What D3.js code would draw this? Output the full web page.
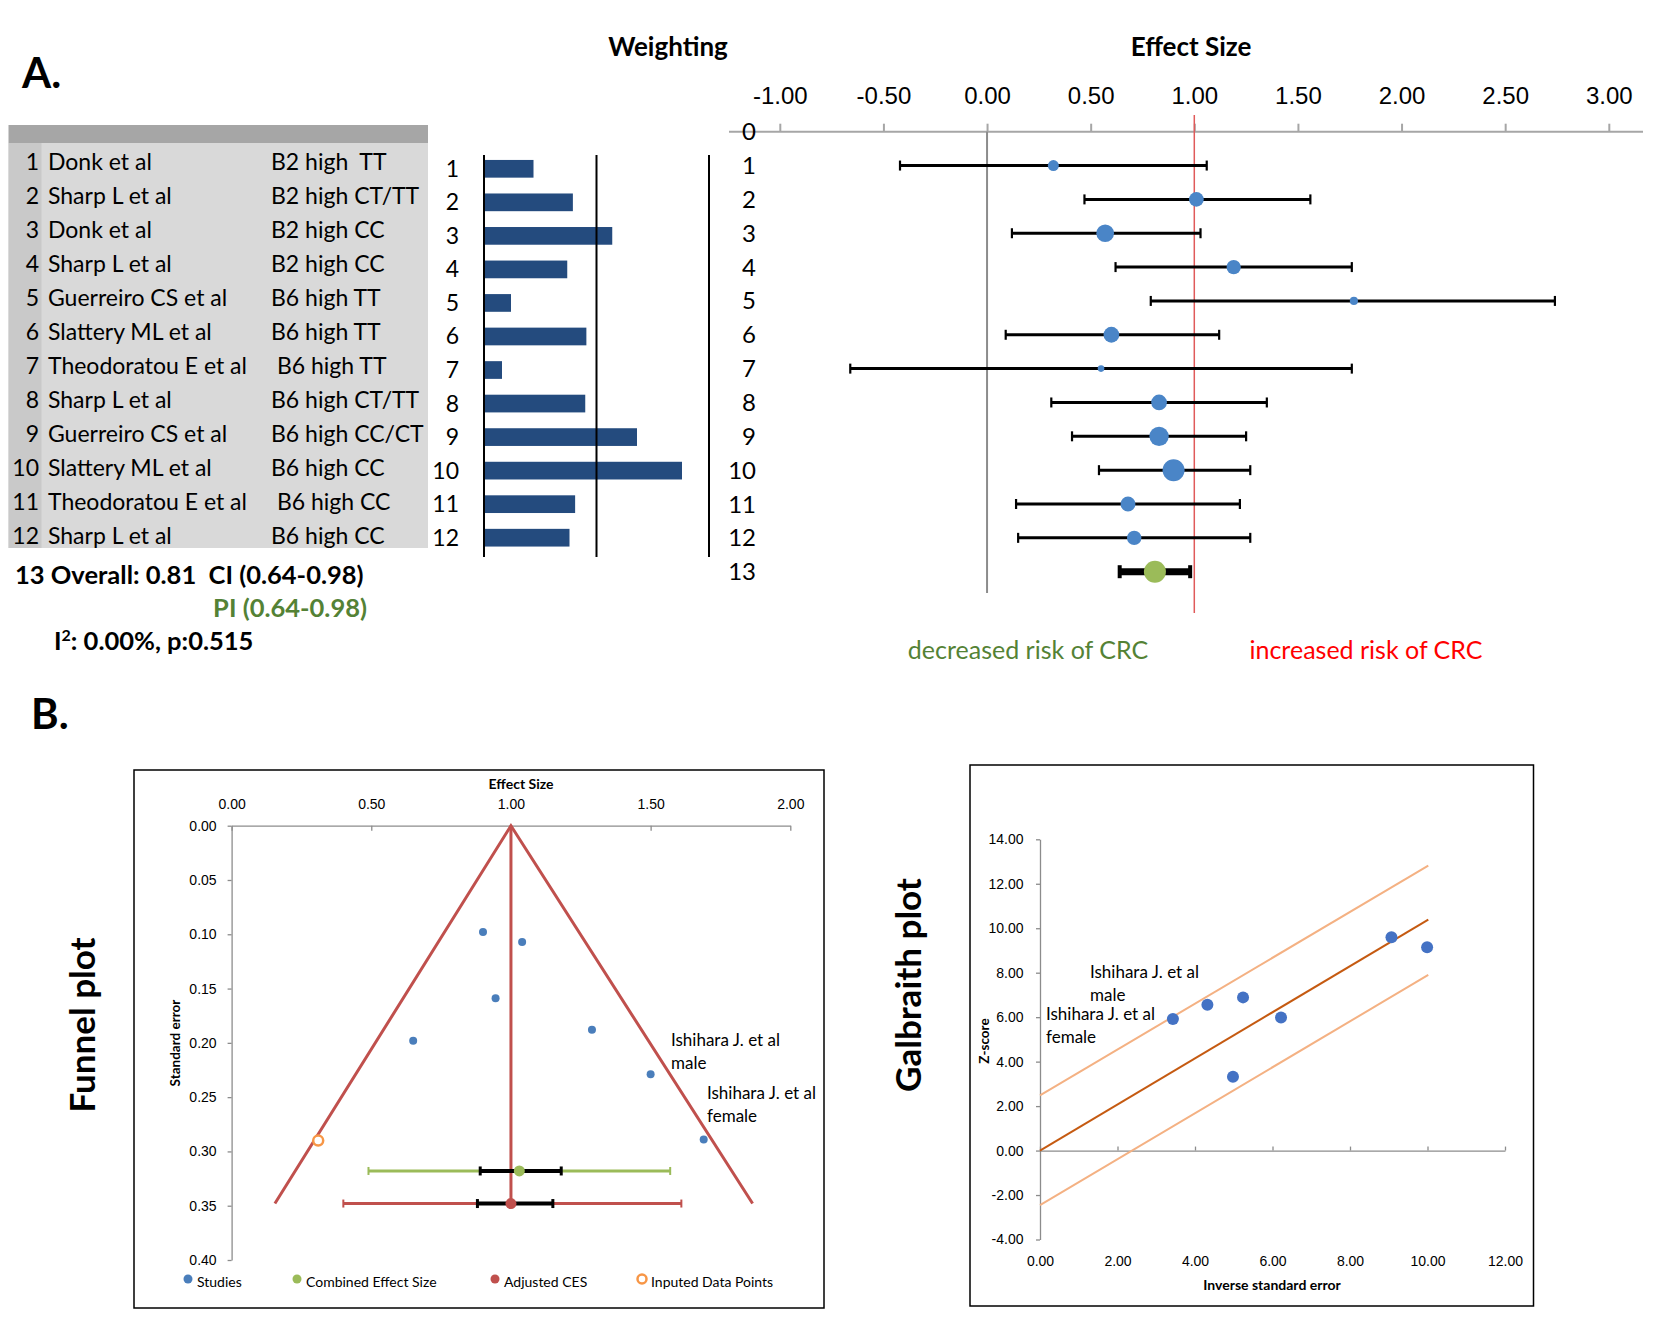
<!DOCTYPE html>
<html><head><meta charset="utf-8">
<script src="https://cdn.jsdelivr.net/npm/d3@7"></script>
<style>
body{margin:0;background:#fff}
svg{display:block;font-family:Lato,"Open Sans",sans-serif}
text{white-space:pre}
</style></head><body>
<svg id="fig" width="1657" height="1323"></svg>
<script>
// ---- panel A data ----
const studyNum = [1,2,3,4,5,6,7,8,9,10,11,12];
const authors = ["Donk et al","Sharp L et al","Donk et al","Sharp L et al","Guerreiro CS et al","Slattery ML et al",
  "Theodoratou E et al","Sharp L et al","Guerreiro CS et al","Slattery ML et al","Theodoratou E et al","Sharp L et al"];
const genotypes = ["B2 high  TT","B2 high CT/TT","B2 high CC","B2 high CC","B6 high TT","B6 high TT",
  " B6 high TT","B6 high CT/TT","B6 high CC/CT","B6 high CC"," B6 high CC","B6 high CC"];
const weights = [4.4, 7.9, 11.4, 7.4, 2.4, 9.1, 1.6, 9.0, 13.6, 17.6, 8.1, 7.6];
const effect = [0.32, 1.01, 0.57, 1.19, 1.77, 0.60, 0.55, 0.83, 0.83, 0.90, 0.68, 0.71];
const ciLow = [-0.42, 0.47, 0.12, 0.62, 0.79, 0.09, -0.66, 0.31, 0.41, 0.54, 0.14, 0.15];
const ciHigh = [1.06, 1.56, 1.03, 1.76, 2.74, 1.12, 1.76, 1.35, 1.25, 1.27, 1.22, 1.27];
const overall = {es: 0.81, lo: 0.64, hi: 0.98};
const esTicks = [-1, -0.5, 0, 0.5, 1, 1.5, 2, 2.5, 3];

// ---- funnel data ----
const funnelEs = [0.90, 1.04, 0.945, 1.29, 0.65, 1.50, 1.69];
const funnelSe = [0.098, 0.107, 0.159, 0.188, 0.198, 0.229, 0.289];
const imputed = [{es: 0.31, se: 0.29}];
const combined = {es: 1.03, se: 0.318, ciLo: 0.89, ciHi: 1.18, piLo: 0.49, piHi: 1.57};
const adjusted = {es: 1.00, se: 0.348, ciLo: 0.88, ciHi: 1.15, piLo: 0.40, piHi: 1.61};
const funnelEdge = [[0.155, 0.348], [1.00, 0], [1.865, 0.348]];
const funnelXTicks = [0, 0.5, 1, 1.5, 2];
const funnelYTicks = [0, 0.05, 0.1, 0.15, 0.2, 0.25, 0.3, 0.35, 0.4];

// ---- galbraith data ----
const precision = [3.43, 4.32, 5.24, 6.22, 9.07, 9.99, 4.98];
const zScore = [5.92, 6.56, 6.89, 5.99, 9.59, 9.14, 3.32];
const regLine = [[0, 0], [10.02, 10.39]];
const upperLine = [[0, 2.48], [10.02, 12.82]];
const lowerLine = [[0, -2.45], [10.02, 7.90]];
const galXTicks = [0, 2, 4, 6, 8, 10, 12];
const galYTicks = [-4, -2, 0, 2, 4, 6, 8, 10, 12, 14];

const svg = d3.select("#fig");
svg.append("rect").attr("width", 1657).attr("height", 1323).attr("fill", "#fff");
const f2 = d => d.toFixed(2);

function label(g, x, y, size, txt, opts) {
  opts = opts || {};
  return g.append("text").attr("x", x).attr("y", y).attr("font-size", size)
    .attr("font-weight", opts.bold ? 700 : 400).attr("fill", opts.fill || "#000")
    .attr("text-anchor", opts.anchor || "start").text(txt);
}

// ================= Panel A =================
label(svg, 22, 88, 42, "A.", {bold: true});
label(svg, 668, 56, 26, "Weighting", {bold: true, anchor: "middle"});
label(svg, 1191, 56, 26, "Effect Size", {bold: true, anchor: "middle"});

// table
const tbl = svg.append("g");
tbl.append("rect").attr("x", 8.5).attr("y", 125).attr("width", 419.5).attr("height", 18).attr("fill", "#a6a6a6");
tbl.append("rect").attr("x", 8.5).attr("y", 143).attr("width", 419.5).attr("height", 405).attr("fill", "#d9d9d9");
tbl.append("rect").attr("x", 8.5).attr("y", 143).attr("width", 33).attr("height", 405).attr("fill", "#c9c9c9");
const rowY = d3.scaleLinear().domain([1, 12]).range([161.7, 535.7]);
const rows = tbl.selectAll("g.row").data(studyNum).join("g").attr("class", "row")
  .attr("transform", d => `translate(0,${rowY(d) + 8})`).attr("font-size", 23);
rows.append("text").attr("x", 39).attr("text-anchor", "end").text(d => d);
rows.append("text").attr("x", 48).text((d, i) => authors[i]);
rows.append("text").attr("x", 271).text((d, i) => genotypes[i]);

// weighting bars
const wx = d3.scaleLinear().domain([0, 20]).range([484, 709]);
const by = d3.scaleBand().domain(studyNum).range([152.03, 554.47]).paddingInner(0.472).paddingOuter(0.236);
const bars = svg.append("g");
bars.selectAll("rect").data(studyNum).join("rect")
  .attr("x", wx(0)).attr("y", d => by(d)).attr("height", by.bandwidth())
  .attr("width", (d, i) => wx(weights[i]) - wx(0)).attr("fill", "#244b7e");
bars.selectAll("line.grid").data([0, 10, 20]).join("line").attr("class", "grid")
  .attr("x1", d => wx(d)).attr("x2", d => wx(d)).attr("y1", 155).attr("y2", 557)
  .attr("stroke", "#000").attr("stroke-width", 2);
bars.selectAll("text").data(studyNum).join("text")
  .attr("x", 459).attr("y", d => by(d) + by.bandwidth() / 2 + 8).attr("text-anchor", "end")
  .attr("font-size", 23).text(d => d);

// forest plot
const fx = d3.scaleLinear().domain([-1, 3]).range([779.8, 1608.8]);
const fy = d3.scaleLinear().domain([0, 13]).range([131.7, 571.7]);
const rs = d3.scaleSqrt().domain([0, 17.6]).range([0, 11]);
const forest = svg.append("g");
forest.append("line").attr("x1", 729).attr("x2", 1643).attr("y1", fy(0)).attr("y2", fy(0))
  .attr("stroke", "#a6a6a6").attr("stroke-width", 2);
const fAxis = forest.append("g").attr("transform", `translate(0,${fy(0)})`)
  .call(d3.axisTop(fx).tickValues(esTicks).tickSizeInner(8).tickSizeOuter(0).tickPadding(20).tickFormat(f2));
fAxis.select(".domain").remove();
fAxis.selectAll("line").attr("stroke", "#a6a6a6").attr("stroke-width", 2);
fAxis.selectAll("text").attr("font-size", 24).attr("font-family", null).attr("fill", "#000");
forest.selectAll("text.rl").data(d3.range(0, 14)).join("text").attr("class", "rl")
  .attr("x", 756).attr("y", d => fy(d) + 8.5).attr("text-anchor", "end").attr("font-size", 24).text(d => d);
forest.append("line").attr("x1", fx(0)).attr("x2", fx(0)).attr("y1", fy(0)).attr("y2", 593)
  .attr("stroke", "#8c8c8c").attr("stroke-width", 2);
forest.append("line").attr("x1", fx(1)).attr("x2", fx(1)).attr("y1", 115).attr("y2", 613)
  .attr("stroke", "#e05a5a").attr("stroke-width", 1.5);
const eb = forest.selectAll("g.eb").data(studyNum).join("g").attr("class", "eb")
  .attr("transform", d => `translate(0,${fy(d)})`);
eb.append("line").attr("x1", (d, i) => fx(ciLow[i])).attr("x2", (d, i) => fx(ciHigh[i]))
  .attr("stroke", "#000").attr("stroke-width", 3);
eb.append("line").attr("x1", (d, i) => fx(ciLow[i])).attr("x2", (d, i) => fx(ciLow[i]))
  .attr("y1", -5).attr("y2", 5).attr("stroke", "#000").attr("stroke-width", 2.2);
eb.append("line").attr("x1", (d, i) => fx(ciHigh[i])).attr("x2", (d, i) => fx(ciHigh[i]))
  .attr("y1", -5).attr("y2", 5).attr("stroke", "#000").attr("stroke-width", 2.2);
eb.append("circle").attr("cx", (d, i) => fx(effect[i])).attr("r", (d, i) => rs(weights[i]))
  .attr("fill", "#4a85c7");
const ov = forest.append("g").attr("transform", `translate(0,${fy(13)})`);
ov.append("line").attr("x1", fx(overall.lo)).attr("x2", fx(overall.hi)).attr("stroke", "#000").attr("stroke-width", 7);
[overall.lo, overall.hi].forEach(v => ov.append("line").attr("x1", fx(v)).attr("x2", fx(v))
  .attr("y1", -6.5).attr("y2", 6.5).attr("stroke", "#000").attr("stroke-width", 4));
ov.append("circle").attr("cx", fx(overall.es)).attr("r", 11).attr("fill", "#9bbb59");

label(svg, 1028, 659, 25, "decreased risk of CRC", {anchor: "middle", fill: "#548235"});
label(svg, 1366, 659, 25, "increased risk of CRC", {anchor: "middle", fill: "#ff0000"});

label(svg, 15, 584, 25.5, `13 Overall: ${f2(overall.es)}  CI (${f2(overall.lo)}-${f2(overall.hi)})`, {bold: true});
label(svg, 367, 617, 25.5, `PI (${f2(overall.lo)}-${f2(overall.hi)})`, {bold: true, anchor: "end", fill: "#548235"});
const i2 = label(svg, 54, 650, 25.5, "I", {bold: true});
i2.append("tspan").attr("font-size", 16).attr("dy", -9.5).text("2");
i2.append("tspan").attr("dy", 9.5).text(": 0.00%, p:0.515");

// ================= Panel B =================
label(svg, 31, 729, 42, "B.", {bold: true});

// funnel plot
const fp = svg.append("g");
fp.append("rect").attr("x", 134).attr("y", 770).attr("width", 690).attr("height", 538)
  .attr("fill", "none").attr("stroke", "#000").attr("stroke-width", 1.5);
fp.append("text").attr("transform", "translate(83,1025) rotate(-90)").attr("dy", "0.35em")
  .attr("text-anchor", "middle").attr("font-size", 35).attr("font-weight", 700).text("Funnel plot");
const ux = d3.scaleLinear().domain([0, 2]).range([231.6, 790.3]);
const uy = d3.scaleLinear().domain([0, 0.4]).range([825.7, 1260]);
const xa = fp.append("g").attr("transform", `translate(0,${uy(0)})`)
  .call(d3.axisTop(ux).tickValues(funnelXTicks).tickSizeInner(-5).tickSizeOuter(0).tickPadding(17).tickFormat(f2));
const ya = fp.append("g").attr("transform", `translate(${ux(0)},0)`)
  .call(d3.axisLeft(uy).tickValues(funnelYTicks).tickSizeInner(4).tickSizeOuter(0).tickPadding(11).tickFormat(f2));
[xa, ya].forEach(a => {
  a.select(".domain").attr("stroke", "#8c8c8c").attr("stroke-width", 1.3);
  a.selectAll("line").attr("stroke", "#8c8c8c").attr("stroke-width", 1.3);
  a.selectAll("text").attr("font-size", 14).attr("font-family", null).attr("fill", "#000");
});
label(fp, 521, 789, 14, "Effect Size", {bold: true, anchor: "middle"});
fp.append("text").attr("transform", "translate(175,1043) rotate(-90)").attr("dy", "0.35em")
  .attr("text-anchor", "middle").attr("font-size", 13.5).attr("font-weight", 700).text("Standard error");
fp.append("path").datum(funnelEdge)
  .attr("d", d3.line().x(d => ux(d[0])).y(d => uy(d[1])))
  .attr("fill", "none").attr("stroke", "#c0504d").attr("stroke-width", 3);
fp.append("line").attr("x1", ux(funnelEdge[1][0])).attr("x2", ux(funnelEdge[1][0]))
  .attr("y1", uy(0)).attr("y2", uy(adjusted.se)).attr("stroke", "#c0504d").attr("stroke-width", 3);
function ciBar(g, d, col) {
  const y = uy(d.se);
  g.append("line").attr("x1", ux(d.piLo)).attr("x2", ux(d.piHi)).attr("y1", y).attr("y2", y)
    .attr("stroke", col).attr("stroke-width", 3);
  [d.piLo, d.piHi].forEach(v => g.append("line").attr("x1", ux(v)).attr("x2", ux(v))
    .attr("y1", y - 4).attr("y2", y + 4).attr("stroke", col).attr("stroke-width", 2));
  g.append("line").attr("x1", ux(d.ciLo)).attr("x2", ux(d.ciHi)).attr("y1", y).attr("y2", y)
    .attr("stroke", "#000").attr("stroke-width", 4);
  [d.ciLo, d.ciHi].forEach(v => g.append("line").attr("x1", ux(v)).attr("x2", ux(v))
    .attr("y1", y - 4.5).attr("y2", y + 4.5).attr("stroke", "#000").attr("stroke-width", 3));
  g.append("circle").attr("cx", ux(d.es)).attr("cy", y).attr("r", 5.5).attr("fill", col);
}
ciBar(fp, combined, "#9bbb59");
ciBar(fp, adjusted, "#c0504d");
fp.selectAll("circle.st").data(funnelEs).join("circle").attr("class", "st")
  .attr("cx", d => ux(d)).attr("cy", (d, i) => uy(funnelSe[i])).attr("r", 4).attr("fill", "#4a7ebb");
fp.selectAll("circle.imp").data(imputed).join("circle").attr("class", "imp")
  .attr("cx", d => ux(d.es)).attr("cy", d => uy(d.se)).attr("r", 5)
  .attr("fill", "#fff").attr("stroke", "#f79646").attr("stroke-width", 2.5);
label(fp, 671, 1046, 17, "Ishihara J. et al");
label(fp, 671, 1069, 17, "male");
label(fp, 707, 1099, 17, "Ishihara J. et al");
label(fp, 707, 1122, 17, "female");
const legend = [
  {x: 188, t: "Studies", col: "#4a7ebb"},
  {x: 297, t: "Combined Effect Size", col: "#9bbb59"},
  {x: 495, t: "Adjusted CES", col: "#c0504d"},
  {x: 642, t: "Inputed Data Points", col: "#f79646", ring: true}
];
legend.forEach(l => {
  fp.append("circle").attr("cx", l.x).attr("cy", 1279).attr("r", l.ring ? 4.5 : 4.5)
    .attr("fill", l.ring ? "#fff" : l.col).attr("stroke", l.ring ? l.col : "none").attr("stroke-width", 2.5);
  label(fp, l.x + 9, 1287, 14, l.t);
});

// galbraith plot
const gp = svg.append("g");
gp.append("rect").attr("x", 970).attr("y", 765).attr("width", 563.5).attr("height", 541)
  .attr("fill", "none").attr("stroke", "#000").attr("stroke-width", 1.5);
gp.append("text").attr("transform", "translate(909,985) rotate(-90)").attr("dy", "0.35em")
  .attr("text-anchor", "middle").attr("font-size", 35).attr("font-weight", 700).text("Galbraith plot");
const gx = d3.scaleLinear().domain([0, 12]).range([1040, 1505]);
const gy = d3.scaleLinear().domain([-4, 14]).range([1239.5, 839.3]);
const gxa = gp.append("g").attr("transform", `translate(0,${gy(0)})`)
  .call(d3.axisBottom(gx).tickValues(galXTicks).tickSizeInner(-4).tickSizeOuter(0).tickFormat(f2));
gxa.selectAll("text").attr("y", gy(-4) - gy(0) + 21.5).attr("dy", "0.35em");
const gya = gp.append("g").attr("transform", `translate(${gx(0)},0)`)
  .call(d3.axisLeft(gy).tickValues(galYTicks).tickSizeInner(4).tickSizeOuter(0).tickPadding(12.5).tickFormat(f2));
[gxa, gya].forEach(a => {
  a.select(".domain").attr("stroke", "#8c8c8c").attr("stroke-width", 1.3);
  a.selectAll("line").attr("stroke", "#8c8c8c").attr("stroke-width", 1.3);
  a.selectAll("text").attr("font-size", 14).attr("font-family", null).attr("fill", "#000");
});
label(gp, 1272, 1290, 14, "Inverse standard error", {bold: true, anchor: "middle"});
gp.append("text").attr("transform", "translate(984,1041) rotate(-90)").attr("dy", "0.35em")
  .attr("text-anchor", "middle").attr("font-size", 13.5).attr("font-weight", 700).text("Z-score");
const gline = d3.line().x(d => gx(d[0])).y(d => gy(d[1]));
[[upperLine, "#f4b183"], [lowerLine, "#f4b183"], [regLine, "#c55a11"]].forEach(([ln, col]) =>
  gp.append("path").datum(ln).attr("d", gline).attr("fill", "none").attr("stroke", col).attr("stroke-width", 2));
gp.selectAll("circle.pt").data(precision).join("circle").attr("class", "pt")
  .attr("cx", d => gx(d)).attr("cy", (d, i) => gy(zScore[i])).attr("r", 6).attr("fill", "#4472c4");
label(gp, 1090, 978, 17, "Ishihara J. et al");
label(gp, 1090, 1001, 17, "male");
label(gp, 1046, 1020, 17, "Ishihara J. et al");
label(gp, 1046, 1043, 17, "female");
</script></body></html>
